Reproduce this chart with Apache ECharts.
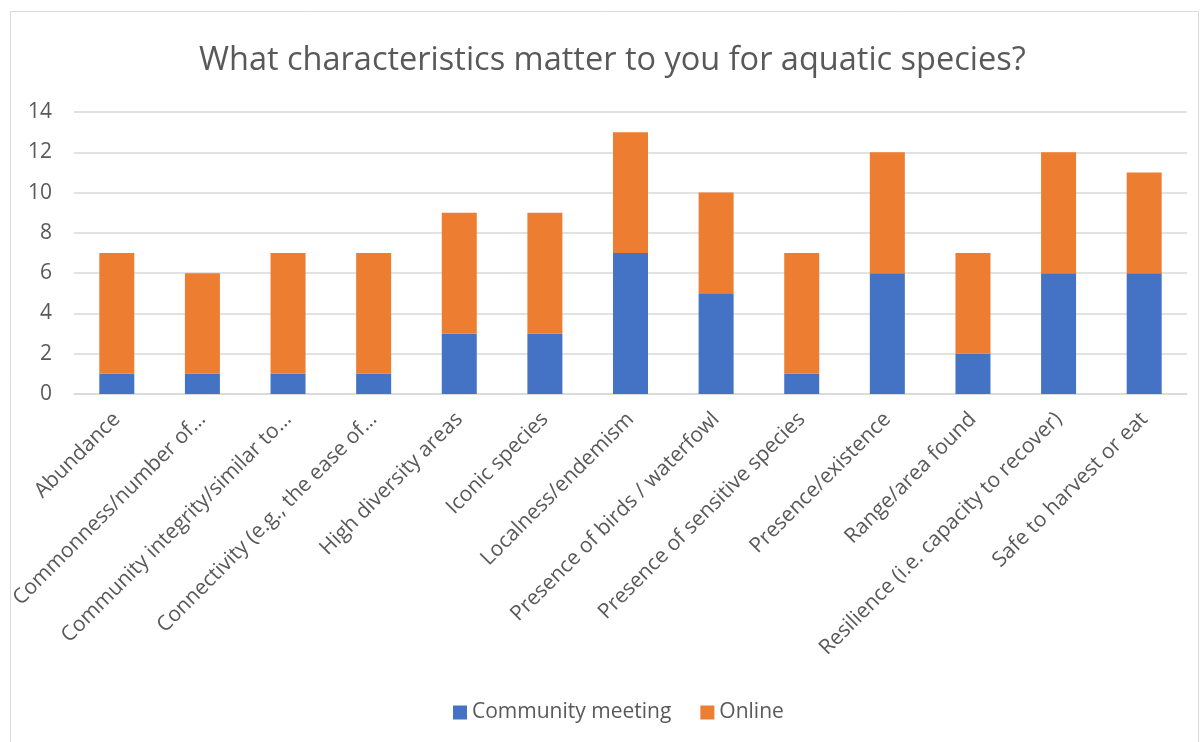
<!DOCTYPE html>
<html><head><meta charset="utf-8">
<script src="https://cdn.jsdelivr.net/npm/echarts@6/dist/echarts.min.js"></script>
<style>html,body{margin:0;padding:0;background:#fff}#c{width:1203px;height:742px}</style>
</head><body><div id="c"></div>
<script>
const categories = ["Abundance","Commonness/number of…","Community integrity/similar to…","Connectivity (e.g., the ease of…","High diversity areas","Iconic species","Localness/endemism","Presence of birds / waterfowl","Presence of sensitive species","Presence/existence","Range/area found","Resilience (i.e. capacity to recover)","Safe to harvest or eat"];
const communityMeeting = [1,1,1,1,3,3,7,5,1,6,2,6,6];
const online = [6,5,6,6,6,6,6,5,6,6,5,6,5];
const yTicks = {min:0, max:14, interval:2};
const FONT = "Open Sans";
const chart = echarts.init(document.getElementById('c'));
chart.setOption({
  animation:false,
  textStyle:{fontFamily:FONT},
  graphic:[{type:'rect',shape:{x:10.5,y:11.5,width:1188,height:740},style:{fill:'none',stroke:'#d9d9d9',lineWidth:1},silent:true}],
  title:{text:'What characteristics matter to you for aquatic species?',left:194,top:39,textStyle:{fontFamily:FONT,fontSize:32.5,fontWeight:'normal',color:'#595959'}},
  legend:{bottom:14,left:448,itemWidth:14,itemHeight:14,itemGap:29,icon:'rect',textStyle:{fontFamily:FONT,fontSize:21,color:'#595959'},data:['Community meeting','Online']},
  grid:{left:74,right:16,top:112,bottom:348,containLabel:false},
  xAxis:{type:'category',data:categories,axisTick:{show:false},axisLine:{lineStyle:{color:'#d9d9d9',width:1.5}},
    axisLabel:{interval:0,rotate:45,margin:22,fontFamily:FONT,fontSize:21,color:'#595959'}},
  yAxis:{type:'value',min:yTicks.min,max:yTicks.max,interval:yTicks.interval,axisLine:{show:false},axisTick:{show:false},
    splitLine:{lineStyle:{color:'#d9d9d9',width:1.5}},axisLabel:{margin:22,fontFamily:FONT,fontSize:21,color:'#595959'}},
  series:[
    {name:'Community meeting',type:'bar',stack:'a',data:communityMeeting,barWidth:35,itemStyle:{color:'#4472C4'}},
    {name:'Online',type:'bar',stack:'a',data:online,barWidth:35,itemStyle:{color:'#ED7D31'}}
  ]
});
</script></body></html>
